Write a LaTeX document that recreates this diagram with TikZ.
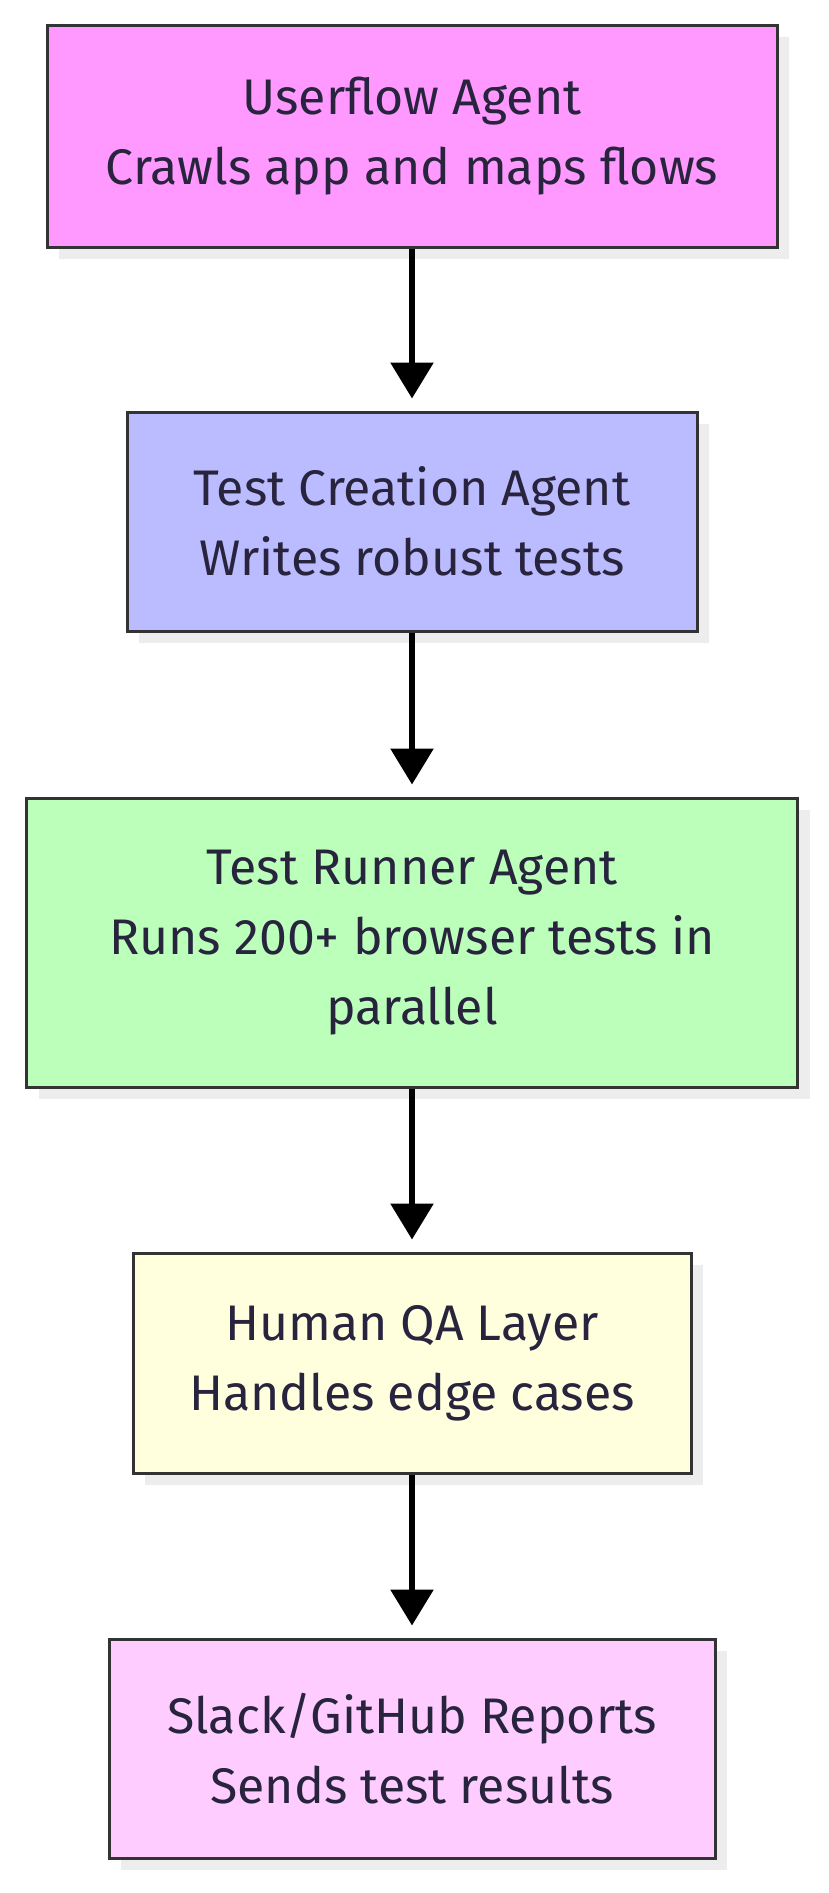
\documentclass[tikz,border=0pt]{standalone}
\usepackage{fontspec}
\setmainfont{Fira Sans}
\usepackage{tikz}
\usetikzlibrary{arrows.meta,shadows}

\definecolor{inkcol}{RGB}{40,36,62}
\definecolor{edgecol}{RGB}{51,51,51}
\definecolor{userflowcol}{RGB}{255,153,255}
\definecolor{creationcol}{RGB}{187,187,255}
\definecolor{runnercol}{RGB}{187,255,187}
\definecolor{humancol}{RGB}{255,255,221}
\definecolor{reportcol}{RGB}{255,204,255}

\tikzset{
  agentbox/.style={draw=edgecol, line width=3pt, text=inkcol, align=center,
    font=\fontsize{50}{70}\selectfont,
    drop shadow={shadow xshift=12pt, shadow yshift=-12pt, fill=black!7, opacity=1}},
  flowarrow/.style={line width=6pt, -{Triangle[length=36pt,width=42pt]}, shorten >=12pt}
}

\begin{document}
\begin{tikzpicture}[x=1pt,y=-1pt]
  \useasboundingbox (0,0) rectangle (828,1893);
  % the five stages
  \node[agentbox, fill=userflowcol, minimum width=730pt, minimum height=222pt] (userflow) at (412,136)
    {Userflow Agent\\Crawls app and maps flows};
  \node[agentbox, fill=creationcol, minimum width=570pt, minimum height=219pt] (creation) at (412,521.5)
    {Test Creation Agent\\Writes robust tests};
  \node[agentbox, fill=runnercol, minimum width=771pt, minimum height=289pt] (runner) at (412,942.5)
    {Test Runner Agent\\Runs 200+ browser tests in\\parallel};
  \node[agentbox, fill=humancol, minimum width=558pt, minimum height=220pt] (human) at (412,1363)
    {Human QA Layer\\Handles edge cases};
  \node[agentbox, fill=reportcol, minimum width=606pt, minimum height=219pt] (report) at (412,1748.5)
    {Slack/GitHub Reports\\Sends test results};
  % connectors
  \draw[flowarrow] (userflow.south) -- (creation.north);
  \draw[flowarrow] (creation.south) -- (runner.north);
  \draw[flowarrow] (runner.south) -- (human.north);
  \draw[flowarrow] (human.south) -- (report.north);
\end{tikzpicture}
\end{document}
